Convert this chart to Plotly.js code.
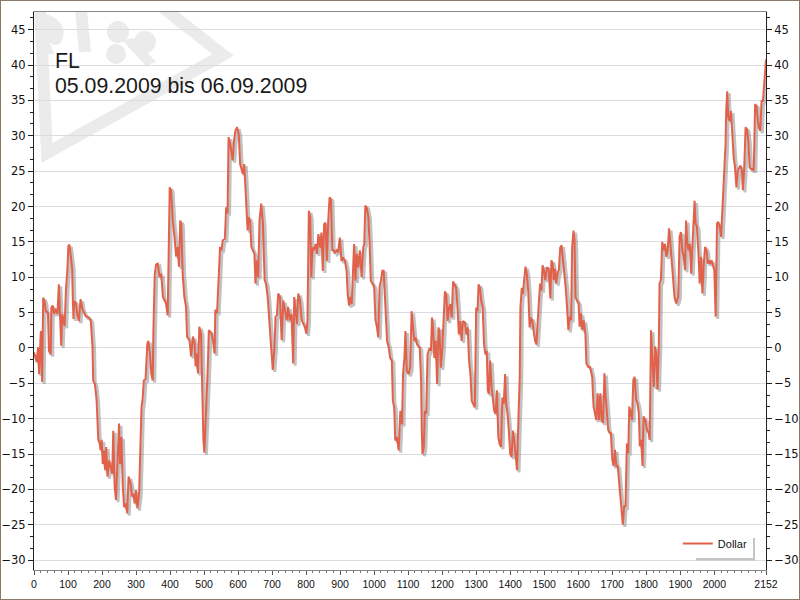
<!DOCTYPE html>
<html>
<head>
<meta charset="utf-8">
<script src="https://cdn.plot.ly/plotly-3.0.1.min.js"></script>
<style>
  html, body { margin: 0; padding: 0; background: #fff; }
  #wrap { position: relative; width: 800px; height: 600px; }
  #chart { width: 800px; height: 600px; }
  #frame { position: absolute; left: 0; top: 0; width: 800px; height: 600px; box-sizing: border-box; border: 1px solid #8c7864; pointer-events: none; }
</style>
</head>
<body>
<div id="wrap"><div id="chart"></div><div id="frame"></div></div>
<script>
// ---- data ----
const chartTitle = "FL";
const chartSubtitle = "05.09.2009 bis 06.09.2009";
const seriesName = "Dollar";

const sampleIndex = [
  0,8,12,15,18,20,24,27,31,35, 41,44,49,51,55,59,64,69,73,76,
  80,83,86,90,94,98,101,104,108,112, 114,116,118,123,127,132,137,142,147,152,
  162,167,172,174,179,184,189,193,196,199, 202,206,209,212,216,221,225,230,233,237,
  241,245,250,253,257,261,265,270,274,278, 284,288,292,296,300,304,309,312,316,319,
  323,328,333,336,341,345,349,351,355,359,
  364,369,374,379,384,388,393,396,399,403, 408,413,418,423,426,430,433,437,442,447,
  450,457,462,467,472,475,479,482,486,491, 494,498,501,504,508,511,514,521,526,531,
  533,538,543,547,551,555,561,565,569,572, 577,580,584,588,592,597,602,606,610,614,
  618,624,628,631,635,639,643,648,651,655, 659,663,668,673,678,682,687,692,697,702,
  707,710,714,718,
  723,728,733,738,743,747,752,757,762,765, 769,773,777,782,787,792,796,801,804,808,
  812,815,819,823,828,832,836,841,845,849, 853,857,861,865,869,873,877,881,885,890,
  894,899,904,909,914,919,922,926,930,934, 939,941,945,949,953,958,963,968,971,974,
  978,983,987,990,995,1000,1004,1008,1012,1016, 1020,1024,1028,
  1030,1034,1038,1043,1047,1052,1055,1059,1062,1067, 1072,1077,1082,1085,1089,1092,1096,1101,1106,1110,
  1114,1118,1122,1126,1134,1138,1140,1142,1146,1149, 1153,1157,1163,1167,1170,1173,1177,1181,1185,1189,
  1192,1196,1200,1204,1208,1212,1216,1220,1224,1228, 1232,1236,1241,1245,1249,1253,1257,1261,1267,1271,
  1275,1279,1283,1287,1290,1296,1300,1304,1307,1311, 1315,1319,1323,1327,1331,1334,1337,1341,1345,1349,
  1353,1357,1361,1365,1369,1373,1377,1381,1385,1388, 1392,1396,1400,1404,1408,1412,1416,1420,1424,1428,
  1430,1434,1437,1441,1445,1449,1453,1457,1461,1465, 1469,1473,1477,
  1481,1484,1488,1492,1495,1499,1503,1508,1513,1518, 1521,1525,1528,1532,1535,1539,1543,1547,1551,1555,
  1559,1563,1567,1571,1575,1579,1582,1586,1589,1592, 1596,1601,1604,1608,1612,1616,1621,1624,1630,1635,
  1641,1645,1649,1653,1657,1661,1665,1669,1673,1677, 1680,1684,1688,1692,1696,1700,1704,1708,1712,1716,
  1720,1724,1728,1731,1735,1739,1743,1747,1750,1754, 1758,1762,1766,1770,1774,1778,1781,1785,1789,1792,
  1797,1802,1807,1810,1814,1818,1822,1826,1829,1833, 1837,
  1839,1843,1847,1851,1855,1859,1863,1867,1871,1875, 1879,1883,1888,1894,1898,1902,1906,1910,1914,1917,
  1920,1924,1928,1932,1935,1939,1942,1945,1949,1953, 1957,1961,1965,1969,1973,1977,1981,1984,1988,1992,
  1996,2000,2004,2008,2012,2016,2020,2023,2026,2030, 2033,2035,2038,2041,2045,2049,2053,2057,2061,2065,
  2069,2073,2077,2081,2084,2088,2092,2096,2100,2104, 2108,2112,2116,2120,2124,2128,2131,2135,2139,2143,
  2146,2150,2152
];

const dollar = [
  -0.6,-2,0.1,-3.7,0,2.4,-4.8,7.1,6.6,5.2, 5,-0.4,-0.9,5.7,6,4.8,5.5,4.8,9,5.2,
  0.3,4.8,3.8,3.1,8.3,10.9,14.4,14.6,13,11.3, 7.1,4.1,6.6,6.4,4.8,3.8,6.9,5.5,5,4.5,
  4.3,3.8,0.1,-4.6,-5.1,-7.4,-13,-13.5,-14.5,-13, -16.4,-14.5,-17.3,-14,-18.2,-15.9,-16.8,-17.8,-11.7,-19.6,
  -21.5,-17.3,-10.7,-16.4,-12.6,-19.6,-22.5,-22,-23.4,-18.2, -19.2,-21,-20.6,-22,-20.1,-22.7,-20.6,-15.4,-8.4,-7.4,
  -4.6,-4.4,0.5,1,-0.9,-3.7,-4.6,2.4,10.4,11.8,
  11.9,10,10.5,7.2,6.8,6.3,4.6,18,22.7,22.3, 18,15.7,12.9,14.3,11.5,18,17.6,10.5,7.2,5.8,
  1.6,1.1,-1.2,1.6,0.7,-2.6,-0.8,-3.6,3,2.1, -4.5,-13,-14.8,-11.1,-8.7,-2.6,2.5,2.1,1.1,-0.8,
  5.4,4.9,10,14.3,13.8,15.2,15.4,19.9,19,29.8, 28.8,27.9,26.5,29.3,30.7,31.2,30.2,26,25.1,24.6,
  26,21.3,16.6,18.5,18,14.3,13.8,13.3,9.1,12.4, 10,18,20.4,17.6,9.6,9.1,7.2,3,0.2,-3.1,
  0.2,4.4,4.6,7.7,
  7.2,1.1,6.7,5.3,3.9,5.8,3.9,4.8,-2.2,7.2, 5.3,3.4,7.7,6.7,3.9,3.4,3,2,3.9,19.4,
  18.5,10,14.2,13.8,14.7,13.3,16.1,14.2,16.3,10.9, 17.5,17.7,12.3,18,21.3,21,13.8,13.8,13.5,13.8,
  13.5,15.6,12.3,12.8,12.3,10.9,7.7,6,7.2,6.2, 11.4,14.7,9.5,13.3,11.4,13.8,10,14.2,14.7,20.1,
  19.9,18.5,14.2,9.5,9.1,8.6,3.9,3,1.5,8.6, 9.5,10.9,10.9,
  8.5,3.3,1,0,-1.4,-1.8,-7.5,-8.4,-13.1,-12.6, -14.5,-8.9,-10.8,-3.7,-1.4,2.4,-3.2,-3.7,-2.8,5.2,
  3.3,1,1.5,0.5,0,-4.6,-11.7,-15,-14,-8.9, -9.3,-0.9,0,-0.4,4.3,2.9,-1.4,1,-5.1,2.9,
  2.4,-2.8,-0.4,3.3,8,7.6,3.8,5.7,6.2,4.3, 9.4,9,8.5,5.7,1.9,3.8,1,3.8,3.6,1.9,
  2.9,-1.8,-3.7,-7.5,-7.9,-8.4,5.7,5.2,9,8.5, 6.6,5.7,0.5,-0.9,-0.4,-6,-6.5,-1.8,-5.5,-7,
  -8.9,-9.3,-6,-12.6,-13.6,-14,-7,-7.9,-3.7,-7.9, -9.3,-11.7,-15,-15.4,-11.7,-13.1,-15.4,-17.3,-10.3,-4.2,
  5.7,8.5,7.6,9.4,11.5,10.4,8,2.9,4.3,3.8, 2.4,1,0.5,
  5.3,6.3,9.1,8.1,11.7,11,9.6,11.4,11.2,7, 12.4,11.9,9.6,11.2,9.1,10.5,11,14.2,14.5,12.8,
  11,8.6,5.8,2.5,4.4,3.9,14.2,16.6,15.2,7.2, 6.7,6.3,3,4.9,2.5,3.9,2,-2.2,-2.7,-2.7,
  -4.1,-8.3,-9.2,-10.2,-6.4,-10.2,-6.4,-10.2,-10.6,-3.6, -6.4,-9.2,-11.6,-12,-12,-15.8,-16.7,-14.4,-16.7,-16.7,
  -18.6,-20.5,-23.3,-25,-22.4,-22.4,-13.5,-14.9,-8.3,-9.2, -10.2,-4.5,-4.1,-7.3,-7.8,-9.2,-13.9,-13,-16.7,-9.7,
  -10.2,-11.6,-12,-13,2.5,-1.7,-5.5,0.2,-0.8,-5.9, 0.6,
  9.1,9.6,15,13.8,14.7,12.9,13.8,16.9,14.7,11.9, 9.1,7.2,6.3,7.2,15.7,16.4,13.8,12.9,11,18,
  15.2,13.8,14.7,10.5,13.8,17.6,20.8,17.6,17.1,13.8, 9.1,12.9,7.7,11.9,14.3,13.8,11.9,12.4,11.9,12.4,
  11.5,11,4.4,17.6,17.8,17.1,15.7,19,20.8,24.6, 28.8,33.5,36.3,32.6,32.1,33.5,30.2,26.9,25.5,22.7,
  25.1,25.5,25.8,25.1,22.3,25.5,31.2,30.9,29.3,25.5, 25.3,25.3,25.1,34.5,34.2,32.1,31.2,30.7,34.9,34.9,
  37.3,39.6,40.8
];

const xTickValues = [0,100,200,300,400,500,600,700,800,900,1000,1100,1200,1300,1400,1500,1600,1700,1800,1900,2000,2152];
const xTickLabels = ["0","100","200","300","400","500","600","700","800","900","1000","1100","1200","1300","1400","1500","1600","1700","1800","1900","2000","2152"];
const yTickValues = [-30,-25,-20,-15,-10,-5,0,5,10,15,20,25,30,35,40,45];

// ---- drawing ----
const n = Math.min(sampleIndex.length, dollar.length);
const xs = sampleIndex.slice(0, n), ys = dollar.slice(0, n);

const shadow = {
  type: 'scatter', mode: 'lines', showlegend: false, hoverinfo: 'skip',
  x: xs.map(v => v + 6), y: ys.map(v => v - 0.3),
  line: { color: 'rgba(120,120,120,0.45)', width: 3 }
};
const main = {
  type: 'scatter', mode: 'lines', name: seriesName,
  x: xs, y: ys,
  line: { color: '#e2614a', width: 2 }
};

const yRange = [-31.4, 47.5];
const tickFontY = { family: 'DejaVu Sans, Verdana, sans-serif', size: 11.5, color: '#111' };
const tickFontX = { family: 'Liberation Sans, Arial, sans-serif', size: 10.5, color: '#111' };

const wm = '<svg xmlns="http://www.w3.org/2000/svg" width="200" height="150" viewBox="0 0 200 150">' +
  '<g fill="none" stroke="#ebebeb" stroke-width="12" stroke-linejoin="miter">' +
  '<polyline points="6,-6 13,141 189,43 127,-6"/>' +
  '<line x1="47" y1="-2" x2="51" y2="40"/></g>' +
  '<g fill="#ebebeb">' +
  '<circle cx="84" cy="20" r="11"/><circle cx="111" cy="30" r="11"/><circle cx="82" cy="42" r="10"/>' +
  '<path d="M88,28 L100,26 L122,50 L112,54 Z"/>' +
  '<path d="M9,2 C27,4 34,20 27,30 C23,35 17,33 15,29 L20,42 L9,42 Z"/>' +
  '</g></svg>';

const px2x = px => (px - 34) / 732;
const py2y = py => (570 - py) / 558;

const layout = {
  width: 800, height: 600,
  margin: { l: 34, r: 34, t: 12, b: 30, pad: 0 },
  paper_bgcolor: '#ffffff', plot_bgcolor: '#ffffff',
  showlegend: true,
  legend: {
    x: 0.982, xanchor: 'right', y: 0.0215, yanchor: 'bottom',
    bgcolor: '#ffffff', borderwidth: 0,
    font: { family: 'Liberation Sans, Arial, sans-serif', size: 11, color: '#111' },
    itemwidth: 30
  },
  xaxis: {
    range: [0, 2152], tickmode: 'array', tickvals: xTickValues, ticktext: xTickLabels,
    ticks: 'outside', ticklen: 4, tickwidth: 1, tickcolor: '#555',
    minor: { dtick: 20, ticks: 'outside', ticklen: 2, tickcolor: '#777', showgrid: false },
    showgrid: false, zeroline: false,
    showline: true, linecolor: '#888', linewidth: 1, mirror: true,
    tickfont: tickFontX
  },
  yaxis: {
    range: yRange, tickmode: 'array', tickvals: yTickValues,
    ticks: 'outside', ticklen: 5, tickwidth: 1, tickcolor: '#222',
    minor: { dtick: 5/3, tick0: 0, ticks: 'outside', ticklen: 3, tickcolor: '#222', showgrid: false },
    showgrid: true, gridcolor: '#dcdbe2', gridwidth: 1, zeroline: false,
    showline: true, linecolor: '#222', linewidth: 1,
    tickfont: tickFontY
  },
  yaxis2: {
    overlaying: 'y', side: 'right', range: yRange, tickmode: 'array', tickvals: yTickValues,
    ticks: 'outside', ticklen: 5, tickwidth: 1, tickcolor: '#222',
    minor: { dtick: 5/3, tick0: 0, ticks: 'outside', ticklen: 3, tickcolor: '#222', showgrid: false },
    showgrid: false, zeroline: false,
    showline: true, linecolor: '#222', linewidth: 1,
    tickfont: tickFontY
  },
  images: [{
    source: 'data:image/svg+xml;charset=utf-8,' + encodeURIComponent(wm),
    xref: 'paper', yref: 'paper', x: 0, y: 1, sizex: 200/732, sizey: 150/558,
    xanchor: 'left', yanchor: 'top', sizing: 'stretch', layer: 'below', opacity: 1
  }],
  shapes: [
    { type: 'rect', xref: 'paper', yref: 'paper', layer: 'above',
      x0: px2x(696), x1: px2x(755), y0: py2y(560.5), y1: py2y(557.5),
      fillcolor: '#c4c4c4', line: { width: 0 } },
    { type: 'rect', xref: 'paper', yref: 'paper', layer: 'above',
      x0: px2x(752), x1: px2x(755), y0: py2y(560.5), y1: py2y(538),
      fillcolor: '#c4c4c4', line: { width: 0 } }
  ],
  annotations: [
    { text: chartTitle, xref: 'paper', yref: 'paper', x: 0.026, y: 0.912, xanchor: 'left', yanchor: 'middle',
      showarrow: false, font: { family: 'Liberation Sans, Arial, sans-serif', size: 21.3, color: '#1a1a1a' } },
    { text: chartSubtitle, xref: 'paper', yref: 'paper', x: 0.026, y: 0.868, xanchor: 'left', yanchor: 'middle',
      showarrow: false, font: { family: 'Liberation Sans, Arial, sans-serif', size: 21.3, color: '#1a1a1a' } }
  ],
  hovermode: false
};

const ghost = { type: 'scatter', mode: 'lines', x: [], y: [], yaxis: 'y2', showlegend: false, hoverinfo: 'skip' };

Plotly.newPlot('chart', [shadow, main, ghost], layout, { staticPlot: true, displayModeBar: false });
</script>
</body>
</html>
